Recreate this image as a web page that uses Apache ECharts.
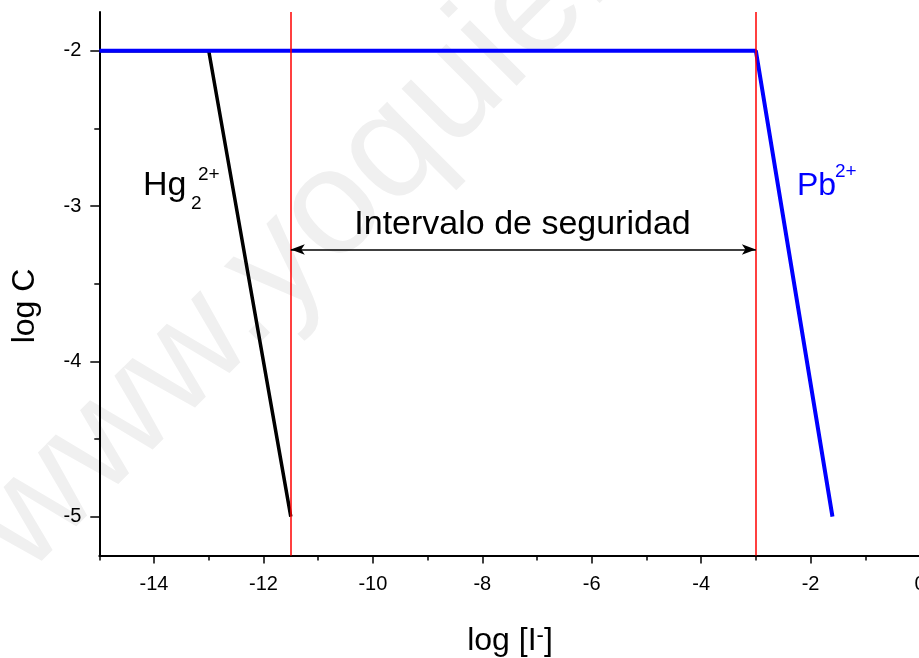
<!DOCTYPE html>
<html>
<head>
<meta charset="utf-8">
<script src="https://cdn.jsdelivr.net/npm/echarts@6/dist/echarts.min.js"></script>
<style>
  html, body { margin: 0; padding: 0; background: #ffffff; }
  #chart { width: 919px; height: 658px; }
</style>
</head>
<body>
<div id="chart"></div>
<script>
// Solubility limits: log C versus log [I-]
const hgX = [-15, -13, -11.5];
const hgY = [-2, -2, -5];
const pbX = [-15, -3, -1.6];
const pbY = [-2, -2, -5];
const boundaryX = [-11.5, -3];
const intervalY = -3.28;

const xRange = [-15, 0];
const yRange = [-5.25, -1.75];
const xMajorTicks = [-14, -12, -10, -8, -6, -4, -2, 0];
const xMinorTicks = [-15, -13, -11, -9, -7, -5, -3, -1];
const yMajorTicks = [-5, -4, -3, -2];
const yMinorTicks = [-4.5, -3.5, -2.5];

const FONT = 'Liberation Sans, Arial, Helvetica, sans-serif';

const toPairs = (xs, ys) => xs.map((x, i) => [x, ys[i]]);

const chart = echarts.init(document.getElementById('chart'), null, { renderer: 'canvas' });

// two identical grids: the first carries the main axes and the data,
// the second only carries the short minor ticks
const plotBox = {
  left: 99.3, width: 820.7, top: 11.9, height: 543.6,
  containLabel: false, outerBoundsMode: 'none'
};

const baseX = { type: 'value', min: xRange[0], max: xRange[1], position: 'bottom', splitLine: { show: false } };
const baseY = { type: 'value', min: yRange[0], max: yRange[1], position: 'left', splitLine: { show: false } };

chart.setOption({
  animation: false,
  backgroundColor: '#ffffff',
  grid: [Object.assign({}, plotBox), Object.assign({}, plotBox)],
  xAxis: [
    Object.assign({}, baseX, {
      gridIndex: 0,
      axisLine: { show: true, onZero: false, lineStyle: { color: '#000', width: 2 } },
      axisTick: { show: true, customValues: xMajorTicks, length: 8, lineStyle: { color: '#000', width: 1.5 } },
      axisLabel: { show: true, customValues: xMajorTicks, color: '#000', fontSize: 20, fontFamily: FONT, margin: 19 }
    }),
    Object.assign({}, baseX, {
      gridIndex: 1,
      axisLine: { show: false, onZero: false },
      axisTick: { show: true, customValues: xMinorTicks, length: 5, lineStyle: { color: '#000', width: 1.5 } },
      axisLabel: { show: false }
    })
  ],
  yAxis: [
    Object.assign({}, baseY, {
      gridIndex: 0,
      axisLine: { show: true, onZero: false, lineStyle: { color: '#000', width: 2 } },
      axisTick: { show: true, customValues: yMajorTicks, length: 9, lineStyle: { color: '#000', width: 1.5 } },
      axisLabel: { show: true, customValues: yMajorTicks, color: '#000', fontSize: 20, fontFamily: FONT, margin: 18 }
    }),
    Object.assign({}, baseY, {
      gridIndex: 1,
      axisLine: { show: false, onZero: false },
      axisTick: { show: true, customValues: yMinorTicks, length: 5, lineStyle: { color: '#000', width: 1.5 } },
      axisLabel: { show: false }
    })
  ],
  series: [
    {
      name: 'Hg2 2+',
      type: 'line',
      xAxisIndex: 0, yAxisIndex: 0,
      data: toPairs(hgX, hgY),
      showSymbol: false,
      symbol: 'none',
      lineStyle: { color: '#000000', width: 3.5 },
      z: 2
    },
    {
      name: 'Pb 2+',
      type: 'line',
      xAxisIndex: 0, yAxisIndex: 0,
      data: toPairs(pbX, pbY),
      showSymbol: false,
      symbol: 'none',
      lineStyle: { color: '#0000ff', width: 4 },
      z: 3
    },
    {
      name: 'limits',
      type: 'line',
      xAxisIndex: 0, yAxisIndex: 0,
      data: [],
      z: 4,
      markLine: {
        silent: true,
        animation: false,
        symbol: 'none',
        label: { show: false },
        lineStyle: { color: '#ff0000', width: 1.5, type: 'solid' },
        emphasis: { disabled: true },
        data: boundaryX.map(v => ({ xAxis: v }))
      }
    },
    {
      name: 'interval',
      type: 'line',
      xAxisIndex: 0, yAxisIndex: 0,
      data: [],
      z: 5,
      markLine: {
        silent: true,
        animation: false,
        symbol: ['arrow', 'arrow'],
        symbolSize: [8, 14],
        label: { show: false },
        lineStyle: { color: '#000000', width: 1.5, type: 'solid' },
        emphasis: { disabled: true },
        data: [[
          { coord: [boundaryX[0], intervalY] },
          { coord: [boundaryX[1], intervalY] }
        ]]
      }
    }
  ],
  graphic: [
    {
      type: 'text', z: -10, silent: true,
      x: 50, y: 600, rotation: Math.PI / 4,
      style: { text: 'www.yoquieroaprobar.es', font: '150px ' + FONT, fill: '#f0f0f0', align: 'left', verticalAlign: 'bottom' }
    },
    {
      type: 'text', silent: true, x: 25, y: 306, rotation: Math.PI / 2,
      style: { text: 'log C', font: '32px ' + FONT, fill: '#000', align: 'center', verticalAlign: 'middle' }
    },
    {
      type: 'text', silent: true, x: 510, y: 641,
      style: {
        text: '{a|log [I}{s|-}{a|]}',
        align: 'center', verticalAlign: 'middle',
        rich: {
          a: { font: '32px ' + FONT, fill: '#000', verticalAlign: 'bottom' },
          s: { font: '22px ' + FONT, fill: '#000', lineHeight: 12, verticalAlign: 'top' }
        }
      }
    },
    {
      type: 'text', silent: true, x: 522.5, y: 225,
      style: { text: 'Intervalo de seguridad', font: '34px ' + FONT, fill: '#000', align: 'center', verticalAlign: 'middle' }
    },
    {
      type: 'text', silent: true, x: 143, y: 186,
      style: { text: 'Hg', font: '34px ' + FONT, fill: '#000', align: 'left', verticalAlign: 'middle' }
    },
    {
      type: 'text', silent: true, x: 191, y: 204,
      style: { text: '2', font: '19px ' + FONT, fill: '#000', align: 'left', verticalAlign: 'middle' }
    },
    {
      type: 'text', silent: true, x: 198, y: 175,
      style: { text: '2+', font: '19px ' + FONT, fill: '#000', align: 'left', verticalAlign: 'middle' }
    },
    {
      type: 'text', silent: true, x: 797, y: 186,
      style: { text: 'Pb', font: '32px ' + FONT, fill: '#0000ff', align: 'left', verticalAlign: 'middle' }
    },
    {
      type: 'text', silent: true, x: 835, y: 171.5,
      style: { text: '2+', font: '19px ' + FONT, fill: '#0000ff', align: 'left', verticalAlign: 'middle' }
    }
  ]
});
</script>
</body>
</html>
